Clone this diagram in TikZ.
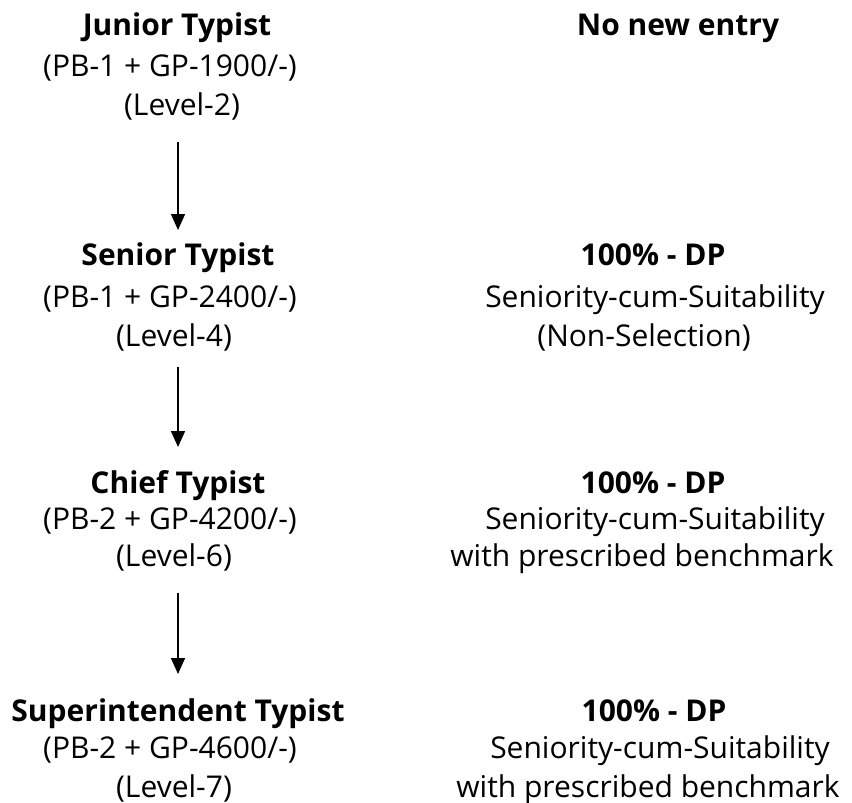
\documentclass[tikz,border=0pt]{standalone}
\usepackage{fontspec}
\setmainfont{Open Sans}
\usetikzlibrary{arrows.meta}
\begin{document}
\begin{tikzpicture}[x=1pt,y=-1pt,
  txt/.style={font=\fontsize{30}{36}\selectfont, inner sep=0pt, anchor=base},
  ttl/.style={txt, font=\fontsize{30}{36}\selectfont\bfseries},
  arr/.style={line width=1.5pt, -{Triangle[width=14pt,length=16pt]}}]
\useasboundingbox (0,0) rectangle (852,803);
% left column
\node[ttl] (t1) at (177,35) {Junior Typist};
\node[txt] (p1) at (170,76) {(PB-1 + GP-1900/-)};
\node[txt] (l1) at (182,115) {(Level-2)};
\node[ttl] (t2) at (178,265) {Senior Typist};
\node[txt] (p2) at (170,307) {(PB-1 + GP-2400/-)};
\node[txt] (l2) at (174,346) {(Level-4)};
\node[ttl] (t3) at (178,493) {Chief Typist};
\node[txt] (p3) at (170,529) {(PB-2 + GP-4200/-)};
\node[txt] (l3) at (174,566) {(Level-6)};
\node[ttl] (t4) at (178,721) {Superintendent Typist};
\node[txt] (p4) at (170,758) {(PB-2 + GP-4600/-)};
\node[txt] (l4) at (174,797) {(Level-7)};
% right column
\node[ttl] (r1) at (678,35) {No new entry};
\node[ttl] (r2) at (653,265) {100\% - DP};
\node[txt] (s2) at (655,307) {Seniority-cum-Suitability};
\node[txt] (n2) at (644,346) {(Non-Selection)};
\node[ttl] (r3) at (653,493) {100\% - DP};
\node[txt] (s3) at (655,529) {Seniority-cum-Suitability};
\node[txt] (b3) at (642,566) {with prescribed benchmark};
\node[ttl] (r4) at (654,721) {100\% - DP};
\node[txt] (s4) at (660,758) {Seniority-cum-Suitability};
\node[txt] (b4) at (648,797) {with prescribed benchmark};
% arrows
\coordinate (a1s) at (178,142); \coordinate (a1e) at (178,230);
\coordinate (a2s) at (178,367); \coordinate (a2e) at (178,447);
\coordinate (a3s) at (178,593); \coordinate (a3e) at (178,674);
\draw[arr] (a1s) -- (a1e);
\draw[arr] (a2s) -- (a2e);
\draw[arr] (a3s) -- (a3e);
\end{tikzpicture}
\end{document}
